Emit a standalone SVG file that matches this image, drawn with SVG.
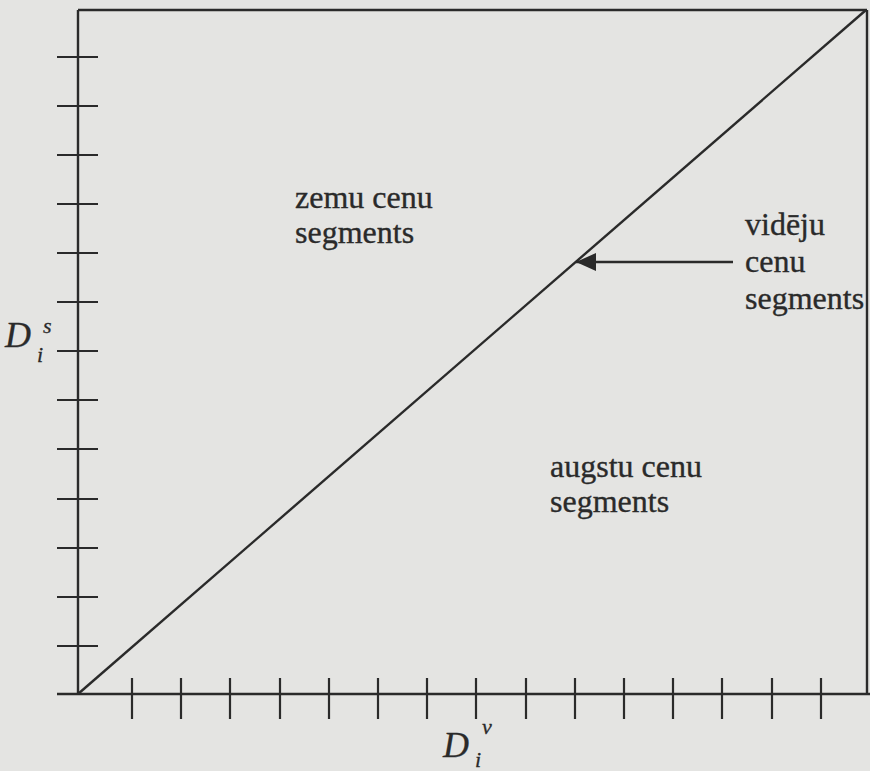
<svg xmlns="http://www.w3.org/2000/svg" width="870" height="771" viewBox="0 0 870 771">
<style>
.ln{stroke:#2a2a2a;stroke-width:2.4;fill:none}
.tk{stroke:#2a2a2a;stroke-width:2.2}
.lbl{font-family:"Liberation Serif","Times New Roman",serif;font-size:32px;fill:#2a2a2a;stroke:#2a2a2a;stroke-width:0.35}
.it{font-family:"Liberation Serif","Times New Roman",serif;font-style:italic;fill:#2a2a2a;stroke:#2a2a2a;stroke-width:0.3}
</style>
<defs>
<marker id="ah" markerWidth="20" markerHeight="18" refX="20" refY="9" orient="auto" markerUnits="userSpaceOnUse">
<path d="M0,0 L20,9 L0,18 Z" fill="#2a2a2a"/>
</marker>
</defs>
<rect width="870" height="771" fill="#e4e4e2"/>
<g id="frame">
<line class="ln" x1="78" y1="10" x2="867" y2="10"/>
<line class="ln" x1="867" y1="10" x2="867" y2="694"/>
</g>
<g id="axis-y">
<line class="ln" x1="78" y1="10" x2="78" y2="694"/>
<g class="tk">
<line x1="57" y1="57" x2="98" y2="57"/>
<line x1="57" y1="106" x2="98" y2="106"/>
<line x1="57" y1="155" x2="98" y2="155"/>
<line x1="57" y1="204" x2="98" y2="204"/>
<line x1="57" y1="253" x2="98" y2="253"/>
<line x1="57" y1="302" x2="98" y2="302"/>
<line x1="57" y1="351" x2="98" y2="351"/>
<line x1="57" y1="400" x2="98" y2="400"/>
<line x1="57" y1="449" x2="98" y2="449"/>
<line x1="57" y1="499" x2="98" y2="499"/>
<line x1="57" y1="548" x2="98" y2="548"/>
<line x1="57" y1="597" x2="98" y2="597"/>
<line x1="57" y1="646" x2="98" y2="646"/>
</g>
</g>
<g id="axis-x">
<line class="ln" x1="57" y1="694" x2="870" y2="694"/>
<g class="tk">
<line x1="132" y1="678" x2="132" y2="719"/>
<line x1="181" y1="678" x2="181" y2="719"/>
<line x1="230" y1="678" x2="230" y2="719"/>
<line x1="280" y1="678" x2="280" y2="719"/>
<line x1="329" y1="678" x2="329" y2="719"/>
<line x1="378" y1="678" x2="378" y2="719"/>
<line x1="427" y1="678" x2="427" y2="719"/>
<line x1="476" y1="678" x2="476" y2="719"/>
<line x1="526" y1="678" x2="526" y2="719"/>
<line x1="575" y1="678" x2="575" y2="719"/>
<line x1="624" y1="678" x2="624" y2="719"/>
<line x1="673" y1="678" x2="673" y2="719"/>
<line x1="722" y1="678" x2="722" y2="719"/>
<line x1="772" y1="678" x2="772" y2="719"/>
<line x1="821" y1="678" x2="821" y2="719"/>
</g>
</g>
<g id="connectors">
<line id="diagonal" class="ln" x1="78" y1="694" x2="866" y2="10"/>
<line id="pointer" class="ln" x1="733" y1="262" x2="576" y2="262" marker-end="url(#ah)"/>
</g>
<g id="label-low">
<text class="lbl" x="295" y="208">zemu cenu</text>
<text class="lbl" x="295" y="243">segments</text>
</g>
<g id="label-mid">
<text class="lbl" x="745" y="235">vidēju</text>
<text class="lbl" x="745" y="272">cenu</text>
<text class="lbl" x="745" y="309">segments</text>
</g>
<g id="label-high">
<text class="lbl" x="550" y="477">augstu cenu</text>
<text class="lbl" x="550" y="512">segments</text>
</g>
<g id="label-ds">
<text class="it" x="5" y="347" font-size="36">D</text>
<text class="it" x="43" y="333" font-size="22">s</text>
<text class="it" x="37" y="362" font-size="22">i</text>
</g>
<g id="label-dv">
<text class="it" x="443" y="757" font-size="36">D</text>
<text class="it" x="482" y="734" font-size="22">v</text>
<text class="it" x="475" y="767" font-size="22">i</text>
</g>
</svg>
